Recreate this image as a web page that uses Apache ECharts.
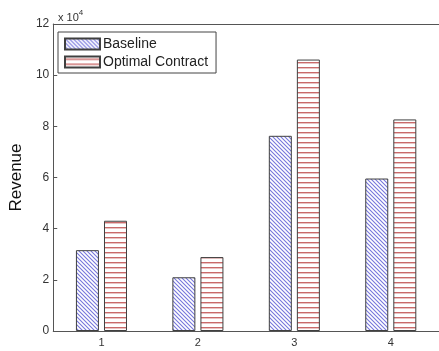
<!DOCTYPE html>
<html>
<head>
<meta charset="utf-8">
<script src="https://cdn.jsdelivr.net/npm/echarts@6/dist/echarts.min.js"></script>
<style>
  html, body { margin: 0; padding: 0; background: #fff; }
  #chart { width: 439px; height: 351px; }
</style>
</head>
<body>
<div id="chart"></div>
<script>
var categories = ['1', '2', '3', '4']
var baseline = [31600, 21000, 76300, 59600]
var optimal = [43100, 28900, 106100, 82700]
var yTicks = [0, 20000, 40000, 60000, 80000, 100000, 120000]

// hatch patterns like the matlab bars
function diagPattern () {
  var c = document.createElement('canvas')
  c.width = 4
  c.height = 4
  var ctx = c.getContext('2d')
  ctx.fillStyle = '#fff'
  ctx.fillRect(0, 0, 4, 4)
  ctx.strokeStyle = '#7676dc'
  ctx.lineWidth = 1.1
  ctx.beginPath()
  ctx.moveTo(-1, -1); ctx.lineTo(5, 5)
  ctx.moveTo(-1, 3); ctx.lineTo(1, 5)
  ctx.moveTo(3, -1); ctx.lineTo(5, 1)
  ctx.stroke()
  return c
}
function horizPattern () {
  var c = document.createElement('canvas')
  c.width = 4
  c.height = 5
  var ctx = c.getContext('2d')
  ctx.fillStyle = '#fff'
  ctx.fillRect(0, 0, 4, 5)
  ctx.fillStyle = '#c96a6a'
  ctx.fillRect(0, 2, 4, 1.4)
  return c
}

var myChart = echarts.init(document.getElementById('chart'))
var font = 'Liberation Sans, Arial, sans-serif'

var option = {
  animation: false,
  textStyle: { fontFamily: font },
  title: {
    text: '{a|x 10}{b|4}',
    left: 53,
    top: 4,
    textStyle: {
      fontWeight: 'normal',
      rich: {
        a: { fontSize: 11, color: '#333', fontFamily: font, fontWeight: 'normal', verticalAlign: 'bottom' },
        b: { fontSize: 8, color: '#333', fontFamily: font, fontWeight: 'normal', verticalAlign: 'top', padding: [0, 0, 6, 0] }
      }
    }
  },
  legend: {
    orient: 'vertical',
    left: 58,
    top: 32,
    padding: [5, 8, 4, 6],
    itemGap: 4,
    itemWidth: 35,
    itemHeight: 11,
    borderColor: '#444',
    borderWidth: 1,
    icon: 'rect',
    textStyle: { fontSize: 14, color: '#222', fontFamily: font, padding: [0, 0, 0, -2] },
    data: ['Baseline', 'Optimal Contract']
  },
  grid: { left: 52, right: -6, top: 24, bottom: 20 },
  xAxis: [{
    type: 'category',
    data: categories,
    axisLine: { lineStyle: { color: '#555' } },
    axisTick: { inside: true, alignWithLabel: true, length: 3, lineStyle: { color: '#555' } },
    axisLabel: { fontSize: 11, color: '#333', margin: 6 }
  }, {
    type: 'category',
    position: 'top',
    data: categories,
    axisLine: { lineStyle: { color: '#555' } },
    axisTick: { inside: true, alignWithLabel: true, length: 3, lineStyle: { color: '#555' } },
    axisLabel: { show: false }
  }],
  yAxis: {
    type: 'value',
    min: 0,
    max: 120000,
    interval: 20000,
    name: 'Revenue',
    nameLocation: 'middle',
    nameGap: 28,
    nameTextStyle: { fontSize: 17, color: '#111', fontFamily: font },
    axisLine: { show: true, lineStyle: { color: '#555' } },
    axisTick: { show: true, inside: true, length: 4, lineStyle: { color: '#555' } },
    axisLabel: {
      fontSize: 12,
      color: '#333',
      margin: 4,
      formatter: function (v) { return yTicks.indexOf(v) >= 0 ? String(v / 10000) : '' }
    },
    splitLine: { show: false }
  },
  series: [
    {
      name: 'Baseline',
      type: 'bar',
      data: baseline,
      barWidth: 23,
      barGap: '22%',
      itemStyle: {
        color: { image: diagPattern(), repeat: 'repeat' },
        borderColor: '#404040',
        borderWidth: 1
      }
    },
    {
      name: 'Optimal Contract',
      type: 'bar',
      data: optimal,
      barWidth: 23,
      barGap: '22%',
      itemStyle: {
        color: { image: horizPattern(), repeat: 'repeat' },
        borderColor: '#404040',
        borderWidth: 1
      }
    }
  ]
}

myChart.setOption(option)
</script>
</body>
</html>
